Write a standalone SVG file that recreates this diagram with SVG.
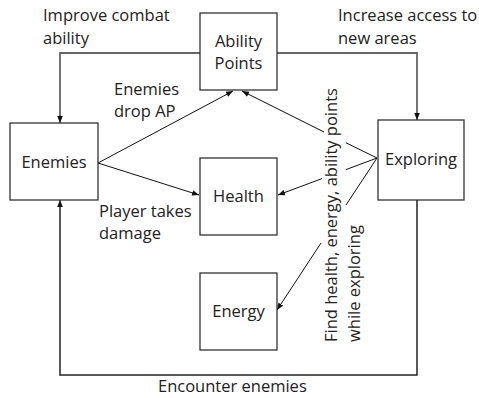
<svg xmlns="http://www.w3.org/2000/svg" width="479" height="398" viewBox="0 0 479 398">
<defs>
<marker id="ah" viewBox="0 0 10 10" refX="10" refY="5" markerWidth="7" markerHeight="7" markerUnits="userSpaceOnUse" orient="auto">
<path d="M0,1 L10,5 L0,9 z" fill="#111"/>
</marker>
</defs>
<style>
.box{fill:#fff;stroke:#222;stroke-width:1.2}
.t{font-family:"Open Sans","Liberation Sans",sans-serif;font-size:16.5px;fill:#222}
.c{text-anchor:middle}
.ln{fill:none;stroke:#111;stroke-width:1}
.gl{fill:none;stroke:#666;stroke-width:1.8}
.bl{fill:none;stroke:#222;stroke-width:1.5}
</style>
<rect width="479" height="398" fill="#fff"/>
<g id="connectors">
<polyline class="gl" points="200,53 60,53 60,117" />
<path class="ln" d="M60,116 L60,123" marker-end="url(#ah)"/>
<polyline class="gl" points="277,53 417,53 417,114" />
<path class="ln" d="M417,113 L417,120" marker-end="url(#ah)"/>
<polyline class="bl" points="417,200 417,375 60,375 60,206" />
<path class="ln" d="M60,207 L60,200" marker-end="url(#ah)"/>
<path class="ln" d="M98,163 L233,91" marker-end="url(#ah)"/>
<path class="ln" d="M98,163 L199,195" marker-end="url(#ah)"/>
<path class="ln" d="M377,158 L346,142.8"/>
<path class="ln" d="M324,132 L242,91" marker-end="url(#ah)"/>
<path class="ln" d="M377,158 L346,169.6"/>
<path class="ln" d="M322,178.6 L278,195" marker-end="url(#ah)"/>
<path class="ln" d="M377,158 L346,205"/>
<path class="ln" d="M321,243 L277,310" marker-end="url(#ah)"/>
</g>
<g id="ability-points">
<rect class="box" x="200" y="13" width="77" height="77"/>
<text class="t c" x="238.5" y="47">Ability</text>
<text class="t c" x="238.5" y="69">Points</text>
</g>
<g id="enemies">
<rect class="box" x="10" y="123" width="88" height="77"/>
<text class="t c" x="54" y="168">Enemies</text>
</g>
<g id="health">
<rect class="box" x="200" y="158" width="77" height="77"/>
<text class="t c" x="238.5" y="202">Health</text>
</g>
<g id="energy">
<rect class="box" x="200" y="273" width="77" height="77"/>
<text class="t c" x="238.5" y="317">Energy</text>
</g>
<g id="exploring">
<rect class="box" x="378" y="120" width="86" height="80"/>
<text class="t c" x="421" y="165">Exploring</text>
</g>
<g id="labels">
<text class="t" x="43" y="21">Improve combat</text>
<text class="t" x="43" y="44">ability</text>
<text class="t" x="338" y="21">Increase access to</text>
<text class="t" x="338" y="44">new areas</text>
<text class="t" x="114" y="95">Enemies</text>
<text class="t" x="114" y="117">drop AP</text>
<text class="t" x="99" y="217">Player takes</text>
<text class="t" x="99" y="239">damage</text>
<text class="t" x="158" y="392">Encounter enemies</text>
<text class="t" transform="translate(337,342) rotate(-90)">Find health, energy, ability points</text>
<text class="t" transform="translate(360,342) rotate(-90)">while exploring</text>
</g>
</svg>
